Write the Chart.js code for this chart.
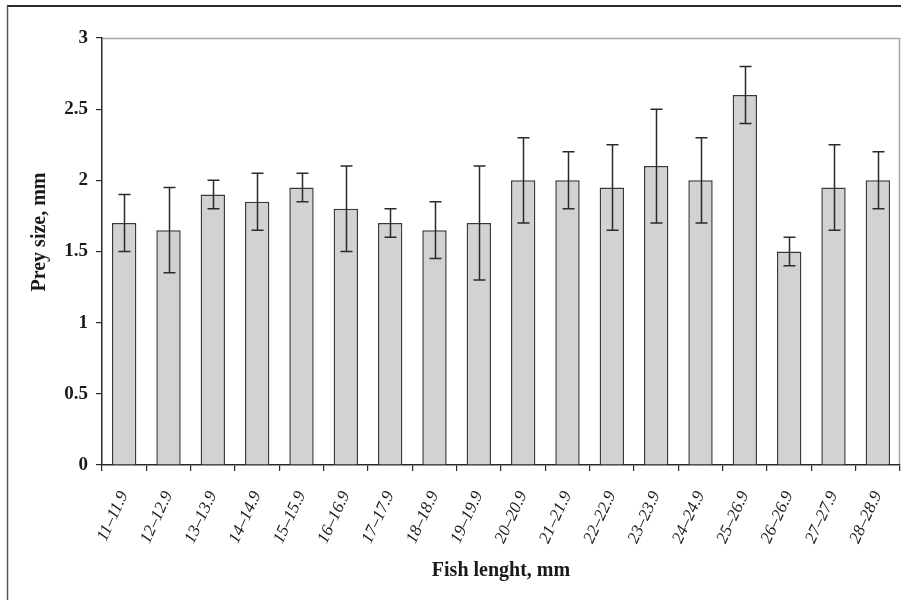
<!DOCTYPE html>
<html>
<head>
<meta charset="utf-8">
<script src="https://cdn.jsdelivr.net/npm/chart.js@4/dist/chart.umd.min.js"></script>
<style>
  html, body { margin: 0; padding: 0; background: #fff; overflow: hidden; }
  canvas { display: block; }
</style>
</head>
<body>
<canvas id="c" width="901" height="600"></canvas>
<script>
const categories = ["11–11.9","12–12.9","13–13.9","14–14.9","15–15.9","16–16.9","17–17.9","18–18.9","19–19.9","20–20.9","21–21.9","22–22.9","23–23.9","24–24.9","25–26.9","26–26.9","27–27.9","28–28.9"];
const preySize = [1.7, 1.65, 1.9, 1.85, 1.95, 1.8, 1.7, 1.65, 1.7, 2.0, 2.0, 1.95, 2.1, 2.0, 2.6, 1.5, 1.95, 2.0];
const preyError = [0.2, 0.3, 0.1, 0.2, 0.1, 0.3, 0.1, 0.2, 0.4, 0.3, 0.2, 0.3, 0.4, 0.3, 0.2, 0.1, 0.3, 0.2];
const yTicks = [0, 0.5, 1, 1.5, 2, 2.5, 3];
const xTitle = 'Fish lenght, mm';
const yTitle = 'Prey size, mm';

const SERIF = "'Liberation Serif', 'DejaVu Serif', serif";

const framePlugin = {
  id: 'frame',
  beforeDraw(chart) {
    const ctx = chart.ctx;
    ctx.save();
    ctx.fillStyle = '#fff';
    ctx.fillRect(0, 0, chart.width, chart.height);
    ctx.strokeStyle = '#2a2a2a';
    ctx.lineWidth = 2;
    ctx.beginPath();
    ctx.moveTo(7, 6);
    ctx.lineTo(chart.width, 6);
    ctx.stroke();
    ctx.strokeStyle = '#555';
    ctx.lineWidth = 1.5;
    ctx.beginPath();
    ctx.moveTo(7.5, 6);
    ctx.lineTo(7.5, chart.height);
    ctx.stroke();
    const a = chart.chartArea;
    ctx.strokeStyle = '#a8a8a8';
    ctx.lineWidth = 1.5;
    ctx.beginPath();
    ctx.moveTo(a.left, a.top + 0.5);
    ctx.lineTo(a.right - 0.5, a.top + 0.5);
    ctx.lineTo(a.right - 0.5, a.bottom);
    ctx.stroke();
    ctx.fillStyle = '#1a1a1a';
    ctx.font = "bold 20px " + SERIF;
    ctx.textAlign = 'center';
    ctx.textBaseline = 'middle';
    ctx.translate(40, 232);
    ctx.rotate(-Math.PI / 2);
    ctx.fillText(yTitle, 0, 0);
    ctx.restore();
  }
};

const errorBarPlugin = {
  id: 'errorBars',
  afterDatasetsDraw(chart) {
    const ctx = chart.ctx;
    const meta = chart.getDatasetMeta(0);
    const y = chart.scales.y;
    ctx.save();
    ctx.strokeStyle = '#2a2a2a';
    ctx.lineWidth = 1.5;
    meta.data.forEach((bar, i) => {
      const v = preySize[i], e = preyError[i];
      const x = Math.round(bar.x) + 0.5;
      const yTop = y.getPixelForValue(v + e);
      const yBot = y.getPixelForValue(v - e);
      const cap = 6;
      ctx.beginPath();
      ctx.moveTo(x, yTop); ctx.lineTo(x, yBot);
      ctx.moveTo(x - cap, yTop); ctx.lineTo(x + cap, yTop);
      ctx.moveTo(x - cap, yBot); ctx.lineTo(x + cap, yBot);
      ctx.stroke();
    });
    ctx.restore();
  }
};

new Chart(document.getElementById('c'), {
  type: 'bar',
  data: {
    labels: categories,
    datasets: [{
      data: preySize,
      backgroundColor: 'rgb(209,210,212)',
      borderColor: '#3a3a3a',
      borderWidth: 1.5,
      barPercentage: 0.55,
      categoryPercentage: 1.0
    }]
  },
  options: {
    responsive: false,
    animation: false,
    devicePixelRatio: 1,
    layout: { padding: { top: 38, left: 8, right: 1, bottom: 0 } },
    plugins: { legend: { display: false }, tooltip: { enabled: false } },
    scales: {
      x: {
        offset: true,
        grid: { offset: true, drawOnChartArea: false, color: '#2a2a2a', tickLength: 6, lineWidth: 1.2 },
        border: { color: '#2a2a2a', width: 1.5 },
        ticks: {
          minRotation: 65, maxRotation: 65, padding: 17,
          color: '#1a1a1a',
          font: { family: SERIF, size: 17, style: 'italic' }
        },
        title: {
          display: true, text: xTitle, color: '#1a1a1a',
          font: { family: SERIF, size: 20, weight: 'bold' },
          padding: { top: 0, bottom: 17 }
        },
        afterFit(scale) { scale.height = 135; scale.paddingLeft = 0; scale.paddingRight = 0; }
      },
      y: {
        min: 0, max: 3,
        afterBuildTicks(scale) { scale.ticks = yTicks.map(v => ({ value: v })); },
        grid: { drawOnChartArea: false, color: '#2a2a2a', tickLength: 6, lineWidth: 1.2 },
        border: { color: '#2a2a2a', width: 1.5 },
        ticks: {
          padding: 8, color: '#1a1a1a',
          font: { family: SERIF, size: 19, weight: 'bold' },
          callback: (v) => String(v)
        },
        title: { display: false },
        afterFit(scale) { scale.width = 94; }
      }
    }
  },
  plugins: [framePlugin, errorBarPlugin]
});
</script>
</body>
</html>
